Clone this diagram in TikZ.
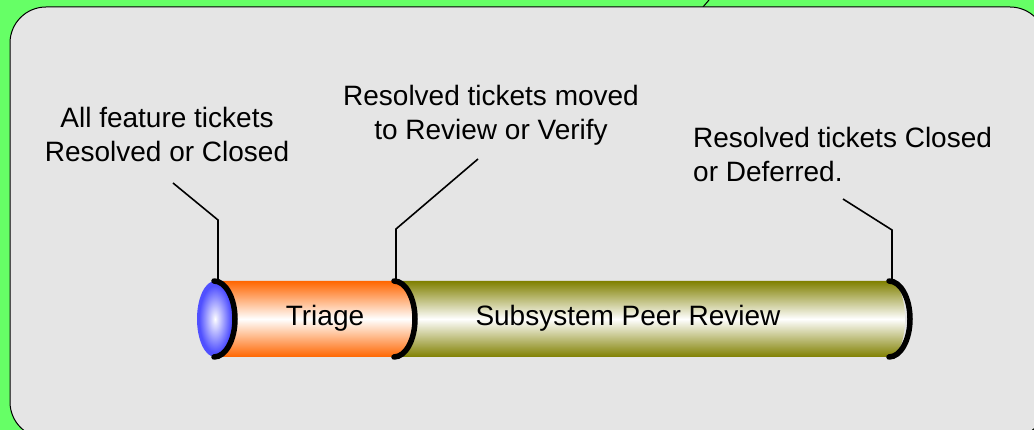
\documentclass[tikz,border=0pt]{standalone}
\usepackage{fontspec}
\setmainfont{Liberation Sans}
\definecolor{pagegreen}{RGB}{102,255,102}
\definecolor{panelgray}{RGB}{229,229,229}
\definecolor{triageorange}{RGB}{255,102,0}
\definecolor{reviewolive}{RGB}{128,128,0}
\definecolor{capblue}{RGB}{80,80,255}
\pgfdeclareradialshading{capglow}{\pgfpoint{0bp}{0bp}}{color(0bp)=(white); color(3bp)=(white!85!capblue); color(22bp)=(capblue); color(50bp)=(capblue)}

\begin{document}
\begin{tikzpicture}[x=1pt, y=1pt,
  note/.style={align=center, font=\fontsize{28}{34}\selectfont, inner sep=0pt},
  callout/.style={line width=1.6pt, line join=miter},
  rim/.style={line width=5.5pt, line cap=round}]
\useasboundingbox (0,0) rectangle (1034,430);
\fill[pagegreen] (0,0) rectangle (1034,430);
\draw[line width=1pt] (703,423) -- (709,430);
\draw[fill=panelgray, line width=1pt, rounded corners=36] (10,423) rectangle (1046,-8);

% the three ends of the pipe
\coordinate (cap0) at (215,111);
\coordinate (cap1) at (395,111);
\coordinate (cap2) at (890,111);

% pipe sections, back to front
\shade[top color=reviewolive, bottom color=reviewolive, middle color=white]
  (395,149) -- (890,149) arc[start angle=90, end angle=-90, x radius=15, y radius=38] -- (395,73) -- cycle;
\shade[top color=triageorange, bottom color=triageorange, middle color=white]
  (215,149) -- (395,149) arc[start angle=90, end angle=-90, x radius=17, y radius=38] -- (215,73) -- cycle;
\shade[shading=capglow] (cap0) ellipse [x radius=18, y radius=38];
\draw[rim] (cap0) ++(-1,38) arc[start angle=90, end angle=-90, x radius=21, y radius=38];
\draw[rim] (cap1) ++(-1,38) arc[start angle=90, end angle=-90, x radius=21, y radius=38];
\draw[rim] (cap2) ++(-1,38) arc[start angle=90, end angle=-90, x radius=21, y radius=38];

\node[note] (triage) at (325,112) {Triage};
\node[note] (review) at (628,112) {Subsystem Peer Review};

% milestone notes
\node[note] (allresolved) at (167,296) {All feature tickets\\Resolved or Closed};
\node[note] (moved) at (491,315) {Resolved tickets moved\\to Review or Verify};
\node[note, align=left, anchor=west] (closed) at (693,276) {Resolved tickets Closed\\or Deferred.};

\coordinate (a0) at (173,247);
\coordinate (b0) at (218,210);
\coordinate (f0) at (218,149);
\coordinate (a1) at (478,271);
\coordinate (b1) at (396,201);
\coordinate (f1) at (396,149);
\coordinate (a2) at (843,231);
\coordinate (b2) at (892,200);
\coordinate (f2) at (892,149);
\draw[callout] (a0) -- (b0) -- (f0);
\draw[callout] (a1) -- (b1) -- (f1);
\draw[callout] (a2) -- (b2) -- (f2);
\end{tikzpicture}
\end{document}
